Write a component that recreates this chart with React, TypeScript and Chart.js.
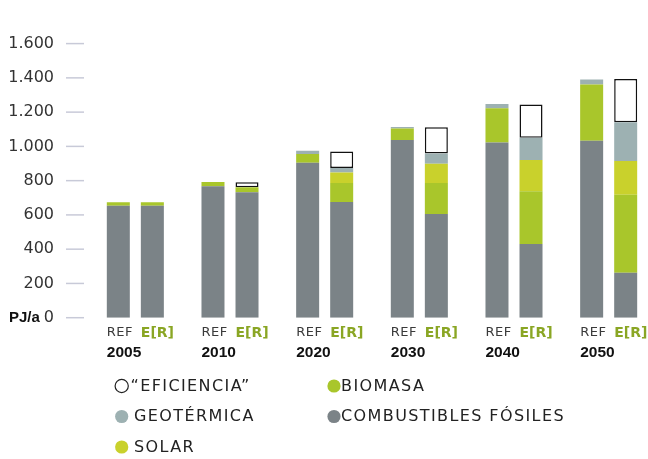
import React, { useEffect, useRef } from 'react';
import { Chart, registerables } from 'chart.js';

Chart.register(...registerables);

// ---- data ----
const years = ['2005', '2010', '2020', '2030', '2040', '2050'];
const yTicks = [0, 200, 400, 600, 800, 1000, 1200, 1400, 1600];
const scenarioLabels = ['REF', 'E[R]'];

// REF scenario
const refFossil = [653, 767, 904, 1038, 1022, 1033];
const refBiomass = [21, 25, 52, 66, 200, 328];
const refGeo = [null, null, 18, 9, 25, 30];

// E[R] scenario
const erFossil = [653, 733, 676, 605, 430, 262];
const erBiomass = [21, 28, 110, 181, 308, 455];
const erSolar = [null, null, 61, 113, 182, 198];
const erGeo = [null, null, 27, 59, 131, 226];
const erEfficiency = [null, 29, 96, 153, 194, 252];

const seriesNames = ['“EFICIENCIA”', 'BIOMASA', 'GEOTÉRMICA', 'COMBUSTIBLES FÓSILES', 'SOLAR'];
const unitLabel = 'PJ/a';

// ---- styles ----
const C_FOSSIL = '#7b8387';
const C_BIO = '#a9c62b';
const C_SOLAR = '#c9d12c';
const C_GEO = '#9db1b2';
const C_EFF = '#ffffff';
const C_ER_TEXT = '#8aa624';
const legendColors = [C_EFF, C_BIO, C_GEO, C_FOSSIL, C_SOLAR];
const legendPos = [
  { cx: 121.7, tx: 130.5, y: 386 },
  { cx: 334, tx: 341, y: 386 },
  { cx: 121.7, tx: 134, y: 416.5 },
  { cx: 334, tx: 341, y: 416.5 },
  { cx: 121.7, tx: 134, y: 447 },
];

function fmt(v: number): string {
  if (v >= 1000) return `${Math.floor(v / 1000)}.${String(v % 1000).padStart(3, '0')}`;
  return String(v);
}

const overlayPlugin = {
  id: 'overlay',
  afterDraw(chart: any) {
    const ctx: CanvasRenderingContext2D = chart.ctx;
    const ys = chart.scales.y;
    const area = chart.chartArea;
    ctx.save();
    // y tick marks
    ctx.strokeStyle = '#c8cad8';
    ctx.lineWidth = 1.5;
    yTicks.forEach((v) => {
      const py = ys.getPixelForValue(v);
      ctx.beginPath();
      ctx.moveTo(area.left - 22, py);
      ctx.lineTo(area.left - 4, py);
      ctx.stroke();
    });
    // unit label
    ctx.fillStyle = '#111';
    ctx.font = 'bold 15px "Liberation Sans"';
    ctx.textAlign = 'left';
    ctx.textBaseline = 'middle';
    ctx.fillText(unitLabel, 9, ys.getPixelForValue(0));

    // x labels
    const metaRef = chart.getDatasetMeta(0);
    const metaEr = chart.getDatasetMeta(3);
    years.forEach((yr, i) => {
      const br = metaRef.data[i].getProps(['x', 'width'], true);
      const be = metaEr.data[i].getProps(['x', 'width'], true);
      const lr = br.x - br.width / 2;
      const le = be.x - be.width / 2;
      ctx.textBaseline = 'middle';
      ctx.fillStyle = '#3a3a3a';
      ctx.font = '13px "DejaVu Sans"';
      (ctx as any).letterSpacing = '0.5px';
      ctx.fillText(scenarioLabels[0], lr, 333);
      (ctx as any).letterSpacing = '0px';
      ctx.fillStyle = C_ER_TEXT;
      ctx.font = 'bold 14px "DejaVu Sans"';
      ctx.fillText(scenarioLabels[1], le, 333);
      ctx.fillStyle = '#111';
      ctx.font = 'bold 15.5px "Liberation Sans"';
      ctx.fillText(yr, lr, 353);
    });

    // legend
    seriesNames.forEach((name, i) => {
      const p = legendPos[i];
      ctx.beginPath();
      ctx.arc(p.cx, p.y, 6.6, 0, Math.PI * 2);
      ctx.fillStyle = legendColors[i];
      ctx.fill();
      if (i === 0) {
        ctx.strokeStyle = '#222';
        ctx.lineWidth = 1.2;
        ctx.stroke();
      }
      ctx.fillStyle = '#222';
      ctx.font = '16px "DejaVu Sans"';
      (ctx as any).letterSpacing = '1.4px';
      ctx.textBaseline = 'middle';
      ctx.fillText(name, p.tx, p.y + 0.5);
      (ctx as any).letterSpacing = '0px';
    });
    ctx.restore();
  },
};

export default function App() {
  const ref = useRef<HTMLCanvasElement>(null);

  useEffect(() => {
    document.body.style.margin = '0';
    document.body.style.overflow = 'hidden';
    const canvas = ref.current;
    if (!canvas) return;
    const bar = (label: string, data: any[], color: string, stack: string, extra: any = {}) => ({
      label,
      data,
      backgroundColor: color,
      stack,
      borderWidth: 0,
      categoryPercentage: 0.719,
      barPercentage: 0.676,
      ...extra,
    });
    const chart = new Chart(canvas, {
      type: 'bar',
      data: {
        labels: years,
        datasets: [
          bar(seriesNames[3], refFossil, C_FOSSIL, 'REF'),
          bar(seriesNames[1], refBiomass, C_BIO, 'REF'),
          bar(seriesNames[2], refGeo, C_GEO, 'REF'),
          bar(seriesNames[3], erFossil, C_FOSSIL, 'ER'),
          bar(seriesNames[1], erBiomass, C_BIO, 'ER'),
          bar(seriesNames[4], erSolar, C_SOLAR, 'ER'),
          bar(seriesNames[2], erGeo, C_GEO, 'ER'),
          bar(seriesNames[0], erEfficiency, C_EFF, 'ER', {
            borderWidth: 1.5,
            borderColor: '#111',
            borderSkipped: false,
            inflateAmount: 0,
          }),
        ],
      },
      options: {
        animation: false,
        responsive: true,
        maintainAspectRatio: false,
        events: [],
        layout: { padding: { top: 19.3, bottom: 141.3, left: 0, right: 0 } },
        plugins: { legend: { display: false }, tooltip: { enabled: false } },
        scales: {
          x: { stacked: true, display: false, offset: true },
          y: {
            stacked: true,
            min: 0,
            max: 1600,
            border: { display: false },
            grid: { display: false, drawTicks: false },
            ticks: {
              stepSize: 200,
              padding: 34,
              color: '#333',
              font: { family: 'DejaVu Sans', size: 16 },
              callback: (v: any) => fmt(Number(v)),
            },
            afterFit: (scale: any) => {
              scale.width = 88;
            },
          },
        },
      },
      plugins: [overlayPlugin],
    });
    return () => chart.destroy();
  }, []);

  return (
    <div style={{ position: 'fixed', left: 0, top: 0, width: 656, height: 459, background: '#fff' }}>
      <canvas ref={ref} />
    </div>
  );
}
